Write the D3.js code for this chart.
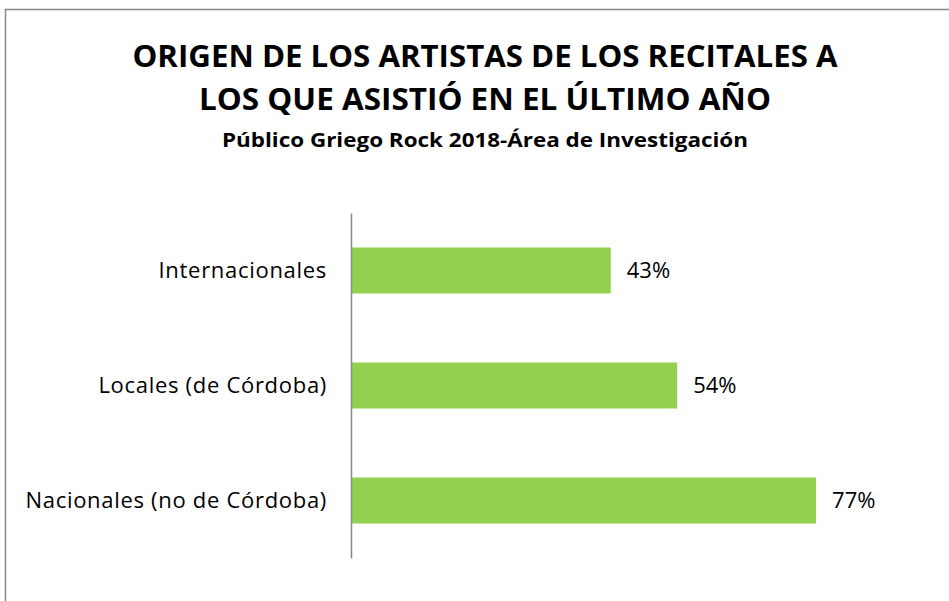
<!DOCTYPE html>
<html><head><meta charset="utf-8">
<script src="https://cdn.jsdelivr.net/npm/d3@7"></script>
<style>body{margin:0;background:#fff}svg{display:block}</style>
</head><body>
<script>
const categories = ["Internacionales", "Locales (de Córdoba)", "Nacionales (no de Córdoba)"];
const values = [43, 54, 77];
const titleLines = ["ORIGEN DE LOS ARTISTAS DE LOS RECITALES A", "LOS QUE ASISTIÓ EN EL ÚLTIMO AÑO"];
const subtitle = "Público Griego Rock 2018-Área de Investigación";

const W = 949, H = 601;
const svg = d3.select("body").append("svg").attr("width", W).attr("height", H);
const font = "Open Sans, Liberation Sans, sans-serif";

svg.append("rect").attr("x", 5.5).attr("y", 9.5).attr("width", W + 10).attr("height", H + 10)
  .attr("fill", "#fff").attr("stroke", "#888").attr("stroke-width", 1.5);

const x = d3.scaleLinear().domain([0, 100]).range([351, 955]);
const y = d3.scaleBand().domain(categories).range([213, 558]).paddingInner(0.6).paddingOuter(0.3);

svg.selectAll("rect.bar").data(categories).join("rect").attr("class", "bar")
  .attr("x", x(0)).attr("y", d => y(d))
  .attr("width", (d, i) => x(values[i]) - x(0)).attr("height", y.bandwidth())
  .attr("fill", "#92d050");

const yAxis = svg.append("g").attr("transform", `translate(${x(0)},0)`)
  .call(d3.axisLeft(y).tickSize(0).tickPadding(24));
yAxis.select(".domain").attr("stroke", "#888").attr("stroke-width", 1.5);
yAxis.selectAll("text").attr("font-family", font).attr("font-size", 22)
  .attr("letter-spacing", 0.7).attr("fill", "#000");

svg.selectAll("text.val").data(categories).join("text").attr("class", "val")
  .attr("x", (d, i) => x(values[i]) + 16).attr("y", d => y(d) + y.bandwidth() / 2)
  .attr("dy", "0.35em").attr("font-family", font).attr("font-size", 22).attr("fill", "#000")
  .text((d, i) => values[i] + "%");

const cx = 485;
svg.selectAll("text.title").data(titleLines).join("text").attr("class", "title")
  .attr("x", cx).attr("y", (d, i) => 67 + i * 43).attr("text-anchor", "middle")
  .attr("font-family", font).attr("font-weight", "bold").attr("font-size", 30)
  .attr("textLength", (d, i) => i === 0 ? 705 : 572).attr("lengthAdjust", "spacingAndGlyphs")
  .text(d => d);
svg.append("text").attr("x", cx).attr("y", 147).attr("text-anchor", "middle")
  .attr("font-family", font).attr("font-weight", "bold").attr("font-size", 19)
  .attr("textLength", 526).attr("lengthAdjust", "spacingAndGlyphs")
  .text(subtitle);
</script>
</body></html>
